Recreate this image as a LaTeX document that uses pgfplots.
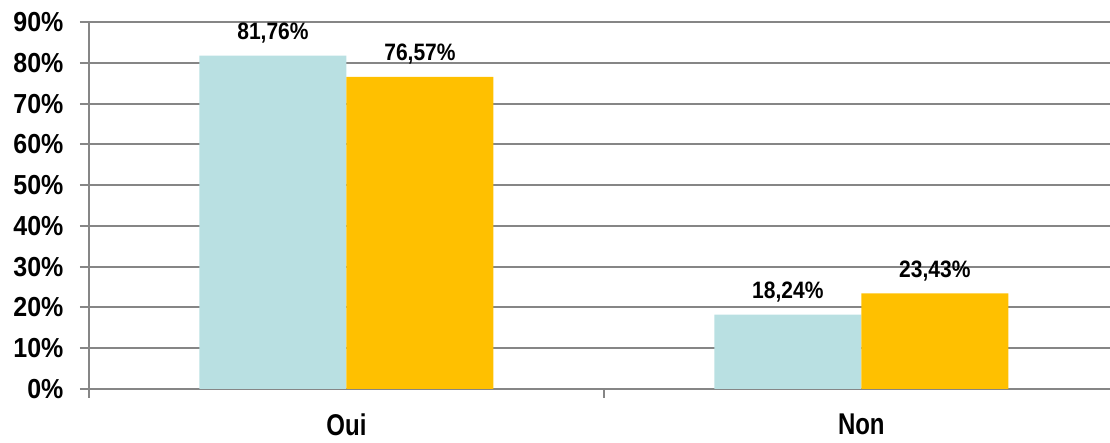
\documentclass[border=0pt]{standalone}
\usepackage{fontspec}
\setmainfont{Liberation Sans}
\usepackage{pgfplots}
\pgfplotsset{compat=1.18}
\definecolor{barblue}{HTML}{B9E0E2}
\definecolor{barorange}{HTML}{FFC000}
\definecolor{axisgray}{HTML}{868686}
\begin{document}
\begin{tikzpicture}
\begin{axis}[
  name=ax,
  scale only axis,
  width=1021pt, height=367pt,
  xmin=-0.5, xmax=1.483,
  ymin=0, ymax=90,
  ybar=0pt, bar width=147pt,
  axis x line=bottom, axis y line=left,
  axis line style={-, draw=axisgray, line width=2pt},
  xtick={0,1}, xticklabels={Oui,Non},
  minor xtick={-0.5,0.5,1.5},
  major x tick style={draw=none},
  ytick={0,10,...,90},
  yticklabel={\pgfmathprintnumber{\tick}\%},
  /pgf/number format/assume math mode=true,
  tick align=outside,
  major tick length=9pt, minor tick length=9pt,
  tick style={draw=axisgray, line width=2pt},
  ymajorgrids,
  major grid style={draw=axisgray, line width=2pt},
  yticklabel style={font=\fontsize{25}{25}\selectfont\bfseries, yscale=1.1, xshift=-13pt},
  xticklabel style={font=\fontsize{24}{24}\selectfont\bfseries, yshift=-14pt, yscale=1.25, inner sep=1pt},
  point meta=rawy,
  nodes near coords={\pgfmathprintnumber[fixed,precision=2,fixed zerofill,use comma]{\pgfplotspointmeta}\%},
  every node near coord/.append style={font=\fontsize{21}{21}\selectfont\bfseries, yscale=1.13, inner sep=2pt, yshift=9pt, black},
  clip=false,
]
\addplot[fill=barblue, draw=none] coordinates {(0,81.76) (1,18.24)};
\addplot[fill=barorange, draw=none] coordinates {(0,76.57) (1,23.43)};
\end{axis}
\pgfresetboundingbox
\path ([xshift=-89pt,yshift=-54pt]ax.south west) rectangle ([yshift=22pt]ax.north east);
\end{tikzpicture}
\end{document}
